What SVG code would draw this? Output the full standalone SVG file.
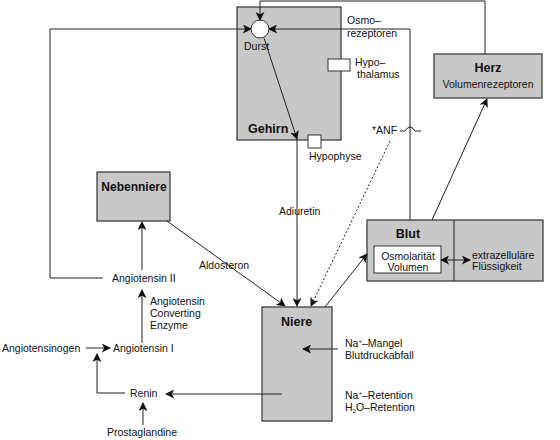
<svg xmlns="http://www.w3.org/2000/svg" width="560" height="440" viewBox="0 0 560 440">
<style>
text{font-family:"Liberation Sans",Arial,sans-serif;font-size:10.5px;fill:#111}
.b{font-weight:bold;font-size:12.5px}
.box{fill:#c8c8c8;stroke:#333;stroke-width:1.2}
.wb{fill:#fff;stroke:#333;stroke-width:1}
.ln{fill:none;stroke:#222;stroke-width:1}
.ar{marker-end:url(#ah)}
.dot{stroke-dasharray:2,2}
</style>
<defs>
<marker id="ah" viewBox="0 0 10 10" refX="9" refY="5" markerWidth="9" markerHeight="9" markerUnits="userSpaceOnUse" orient="auto-start-reverse">
<path d="M0,0 L10,5 L0,10 L2.5,5 Z" fill="#111"/>
</marker>
</defs>
<g id="gehirn">
<rect class="box" x="237" y="7" width="104" height="133"/>
<circle cx="260" cy="29" r="9" fill="#fff" stroke="#333"/>
<text x="244" y="50">Durst</text>
<text class="b" x="248" y="133">Gehirn</text>
<rect class="wb" x="328" y="59" width="22" height="12"/>
<text x="355" y="66">Hypo–</text>
<text x="357" y="78">thalamus</text>
<rect class="wb" x="308" y="135" width="13" height="13"/>
<text x="309" y="160">Hypophyse</text>
</g>
<g id="herz">
<rect class="box" x="434" y="54" width="108" height="44"/>
<text class="b" x="488" y="72" text-anchor="middle">Herz</text>
<text x="488" y="88" text-anchor="middle">Volumenrezeptoren</text>
</g>
<g id="nebenniere">
<rect class="box" x="97" y="172" width="73" height="49"/>
<text class="b" x="134" y="191" text-anchor="middle" style="font-size:12px">Nebenniere</text>
</g>
<g id="blut">
<rect class="box" x="367" y="220" width="176" height="61"/>
<line class="ln" x1="454" y1="220" x2="454" y2="281"/>
<text class="b" x="408" y="238" text-anchor="middle">Blut</text>
<rect class="wb" x="374" y="246" width="67" height="27"/>
<text x="408" y="260" text-anchor="middle">Osmolarität</text>
<text x="408" y="271" text-anchor="middle">Volumen</text>
<text x="472" y="259">extrazelluläre</text>
<text x="472" y="270">Flüssigkeit</text>
</g>
<g id="niere">
<rect class="box" x="262" y="307" width="70" height="114"/>
<text class="b" x="281" y="326">Niere</text>
</g>
<g id="labels">
<text x="347" y="24">Osmo–</text>
<text x="347" y="37">rezeptoren</text>
<text x="372" y="134">*ANF</text>
<text x="279" y="215">Adiuretin</text>
<text x="199" y="269">Aldosteron</text>
<text x="112" y="282">Angiotensin II</text>
<text x="150" y="305">Angiotensin</text>
<text x="150" y="317">Converting</text>
<text x="150" y="329">Enzyme</text>
<text x="2" y="352">Angiotensinogen</text>
<text x="113" y="352">Angiotensin I</text>
<text x="130" y="397">Renin</text>
<text x="107" y="436">Prostaglandine</text>
<text x="345" y="347">Na<tspan dy="-4" font-size="6">+</tspan><tspan dy="4">–Mangel</tspan></text>
<text x="345" y="359">Blutdruckabfall</text>
<text x="345" y="399">Na<tspan dy="-4" font-size="6">+</tspan><tspan dy="4">–Retention</tspan></text>
<text x="345" y="411">H<tspan dy="2" font-size="6">2</tspan><tspan dy="-2">O–Retention</tspan></text>
</g>
<g id="connectors">
<polyline class="ln ar" points="485,54 485,1 260,1 260,20"/>
<polyline class="ln ar" points="50,278 50,29 251,29"/>
<polyline class="ln" points="103,278 50,278"/>
<polyline class="ln ar" points="410,220 410,29 269,29"/>
<polyline class="ln ar" points="264,38 297,139"/>
<polyline class="ln ar" points="297,139 297,306"/>
<path class="ln" d="M400,131 H405 Q410,123 415,131 H421"/>
<line class="ln ar dot" x1="390" y1="141" x2="311" y2="306"/>
<line class="ln ar" x1="167" y1="221" x2="285" y2="306"/>
<line class="ln ar" x1="325" y1="307" x2="367" y2="254"/>
<line class="ln ar" x1="432" y1="220" x2="487" y2="99"/>
<line class="ln ar" x1="441" y1="260" x2="470" y2="260" style="marker-start:url(#ah)"/>
<line class="ln ar" x1="142" y1="270" x2="142" y2="222"/>
<line class="ln ar" x1="142" y1="343" x2="142" y2="290"/>
<line class="ln ar" x1="86" y1="348" x2="110" y2="348"/>
<polyline class="ln ar" points="125,393 97,393 97,354"/>
<line class="ln ar" x1="282" y1="394" x2="166" y2="394"/>
<line class="ln ar" x1="143" y1="425" x2="143" y2="403"/>
<line class="ln ar" x1="338" y1="349" x2="303" y2="349"/>
</g>
</svg>
